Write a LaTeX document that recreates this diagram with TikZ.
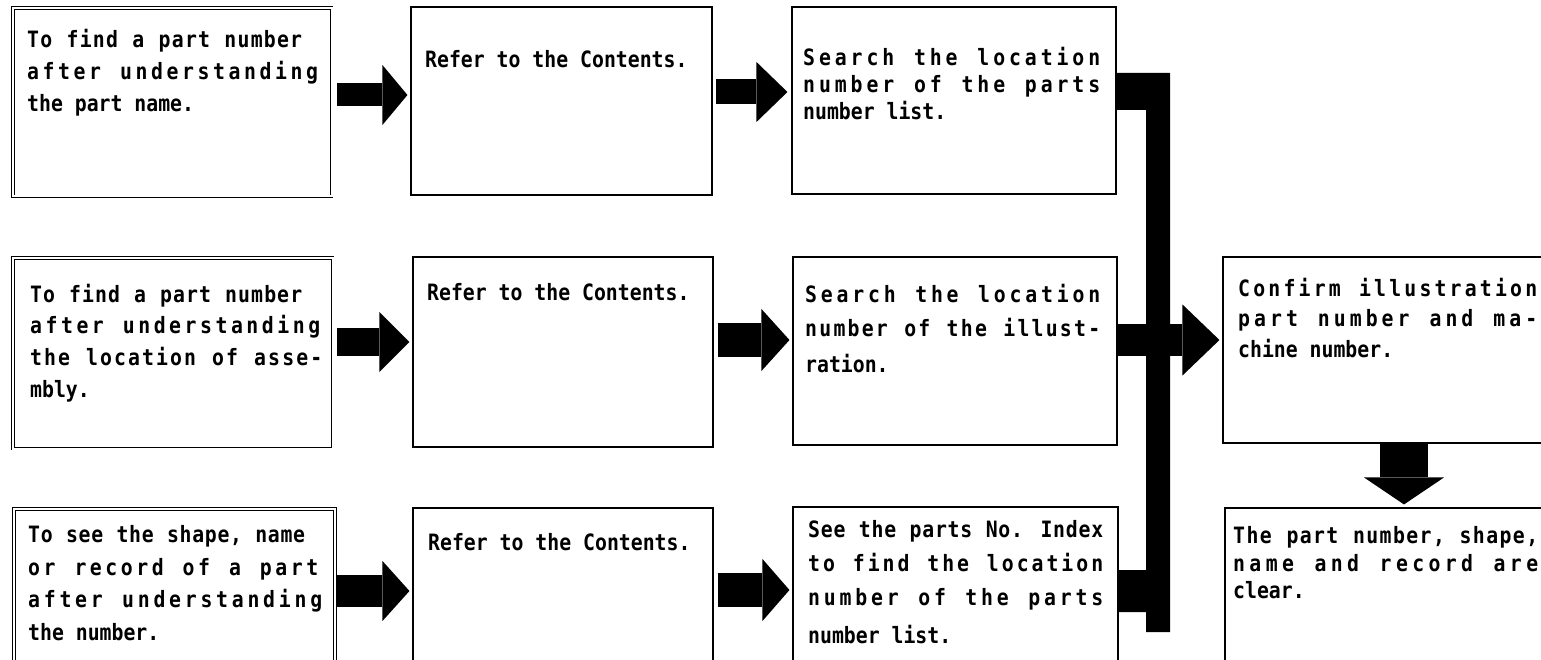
\documentclass[tikz,border=0pt]{standalone}
\usepackage{fontspec}
\newfontfamily\gothic[FakeStretch=0.88]{DejaVu Sans Mono}
\usetikzlibrary{arrows.meta}
\ExplSyntaxOn
\NewDocumentCommand\spread{mm}{\makebox[#1][s]{\str_map_inline:nn{#2}{##1\hfil}\unskip}}
\ExplSyntaxOff
\begin{document}
\begin{tikzpicture}[x=1pt,y=-1pt,
  box/.style={draw, line width=1.1pt, inner sep=0pt, rectangle},
  dbox/.style={draw, double, double distance=2pt, line width=0.9pt, inner sep=0pt, rectangle},
  txt/.style={inner sep=0pt, anchor=base west, font=\gothic\bfseries\fontsize{22.5}{26}\selectfont},
  fatarr/.style n args={3}{line width=#1, -{Triangle[width=#2, length=#3, line width=0pt]}}]
\useasboundingbox (0,0) rectangle (1541,660);
\fill[white] (0,0) rectangle (1541,660);
\clip (0,0) rectangle (1541,660);
% boxes
\node[dbox, minimum width=318.5, minimum height=188.75] (a1) at (172.25,102.1) {};
\node[box, minimum width=301, minimum height=188] (b1) at (561.5,101) {};
\node[box, minimum width=324, minimum height=187] (c1) at (954,100.5) {};
\node[dbox, minimum width=319.5, minimum height=190.5] (a2) at (172.75,353.25) {};
\node[box, minimum width=300, minimum height=190] (b2) at (563,352) {};
\node[box, minimum width=324, minimum height=188] (c2) at (955,351) {};
\node[box, minimum width=340, minimum height=186] (r2) at (1393,350) {};
\node[dbox, minimum width=321, minimum height=191] (a3) at (174.5,604.5) {};
\node[box, minimum width=300, minimum height=190] (b3) at (563,603) {};
\node[box, minimum width=325, minimum height=190] (c3) at (955.5,602) {};
\node[box, minimum width=340, minimum height=190] (r3) at (1395,603) {};
% collecting bus
\fill (c1.east |- 0,73) -- (1170,73) -- (1170,632) -- (1146,632) -- (1146,612)
  -- (c3.east |- 0,612) -- (c3.east |- 0,570) -- (1146,570) -- (1146,110)
  -- (c1.east |- 0,110) -- cycle;
% arrows
\draw[fatarr={23pt}{60pt}{25pt}, shorten <=5pt, shorten >=3pt] (a1.east |- 0,95) -- (b1.west |- 0,95);
\draw[fatarr={25pt}{60pt}{31pt}, shorten <=3pt, shorten >=4pt] (b1.east |- 0,92) -- (c1.west |- 0,92);
\draw[fatarr={28pt}{60pt}{30pt}, shorten <=4.5pt, shorten >=3pt] (a2.east |- 0,342) -- (b2.west |- 0,342);
\draw[fatarr={34pt}{62pt}{28pt}, shorten <=4pt, shorten >=3pt] (b2.east |- 0,340) -- (c2.west |- 0,340);
\draw[fatarr={32pt}{71pt}{37pt}, shorten >=3pt] (c2.east |- 0,340) -- (r2.west |- 0,340);
\draw[fatarr={32pt}{60pt}{27pt}, shorten <=2pt, shorten >=3pt] (a3.east |- 0,591) -- (b3.west |- 0,591);
\draw[fatarr={34pt}{62pt}{27pt}, shorten <=4pt, shorten >=3pt] (b3.east |- 0,590) -- (c3.west |- 0,590);
\draw[fatarr={48pt}{80pt}{27pt}, shorten >=3pt] (r2.south -| 1404,0) -- (r3.north -| 1404,0);
% texts
\node[txt] (a1t1) at (27,48) {\spread{275pt}{To find a part number}};
\node[txt] (a1t2) at (27,80) {\spread{291pt}{after understanding}};
\node[txt] (a1t3) at (27,112) {the part name.};
\node[txt] (b1t1) at (425,68) {Refer to the Contents.};
\node[txt] (c1t1) at (803,66) {\spread{297pt}{Search the location}};
\node[txt] (c1t2) at (803,93) {\spread{297pt}{number of the parts}};
\node[txt] (c1t3) at (803,120) {number list.};
\node[txt] (a2t1) at (30,302) {\spread{272pt}{To find a part number}};
\node[txt] (a2t2) at (30,333) {\spread{290pt}{after understanding}};
\node[txt] (a2t3) at (30,365) {\spread{292pt}{the location of asse-}};
\node[txt] (a2t4) at (30,397) {mbly.};
\node[txt] (b2t1) at (427,300) {Refer to the Contents.};
\node[txt] (c2t1) at (805,302) {\spread{295pt}{Search the location}};
\node[txt] (c2t2) at (805,336) {\spread{295pt}{number of the illust-}};
\node[txt] (c2t3) at (805,372) {ration.};
\node[txt] (r2t1) at (1238,296) {\spread{299pt}{Confirm illustration}};
\node[txt] (r2t2) at (1238,326) {\spread{299pt}{part number and ma-}};
\node[txt] (r2t3) at (1238,357) {chine number.};
\node[txt] (a3t1) at (28,542) {\spread{277pt}{To see the shape, name}};
\node[txt] (a3t2) at (28,575) {\spread{290pt}{or record of a part}};
\node[txt] (a3t3) at (28,607) {\spread{294pt}{after understanding}};
\node[txt] (a3t4) at (28,640) {the number.};
\node[txt] (b3t1) at (428,550) {Refer to the Contents.};
\node[txt] (c3t1) at (808,537) {\spread{295pt}{See the parts No. Index}};
\node[txt] (c3t2) at (808,571) {\spread{295pt}{to find the location}};
\node[txt] (c3t3) at (808,605) {\spread{295pt}{number of the parts}};
\node[txt] (c3t4) at (808,643) {number list.};
\node[txt] (r3t1) at (1233,543) {\spread{305pt}{The part number, shape,}};
\node[txt] (r3t2) at (1233,571) {\spread{305pt}{name and record are}};
\node[txt] (r3t3) at (1233,598) {clear.};
\end{tikzpicture}
\end{document}
